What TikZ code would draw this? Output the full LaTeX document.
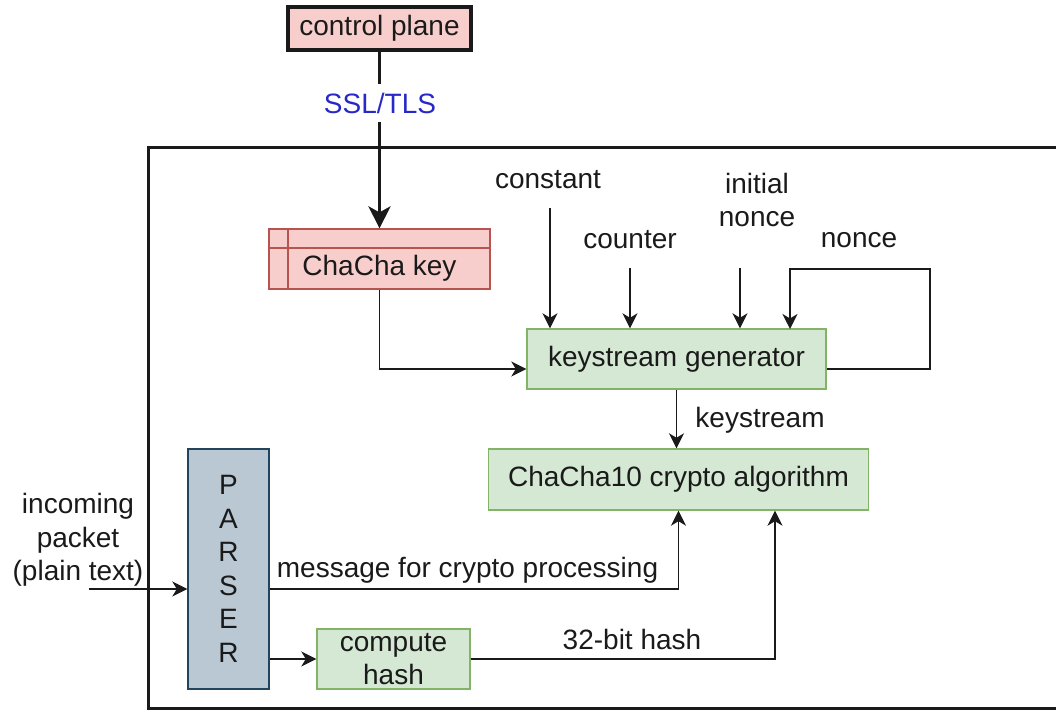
\documentclass[tikz,border=0pt]{standalone}
\usepackage{fontspec}
\setmainfont{Liberation Sans}
\usetikzlibrary{arrows.meta}

\definecolor{pinkfill}{HTML}{F8CECC}
\definecolor{pinkline}{HTML}{B85450}
\definecolor{greenfill}{HTML}{D5E8D4}
\definecolor{greenline}{HTML}{82B366}
\definecolor{bluefill}{HTML}{BAC8D3}
\definecolor{blueline}{HTML}{23445D}
\definecolor{linkblue}{RGB}{40,40,200}
\definecolor{ink}{HTML}{1A1A1A}

\begin{document}
\begin{tikzpicture}[x=1pt,y=-1pt,
  every node/.style={font=\fontsize{28}{33.5}\selectfont, text=ink, inner sep=0pt},
  greenbox/.style={draw=greenline, fill=greenfill, line width=1.4pt, rectangle},
  keybox/.style={draw=pinkline, fill=pinkfill, line width=1.2pt, rectangle},
  planebox/.style={draw=ink, fill=pinkfill, line width=3.5pt, rectangle},
  parserbox/.style={draw=blueline, fill=bluefill, line width=1.4pt, rectangle},
  arr/.style={draw=ink, line width=1.6pt, -{Stealth[length=15pt,width=15pt,inset=4.5pt]}},
  thickarr/.style={draw=ink, line width=3.5pt, -{Stealth[length=22pt,width=22pt,inset=6pt]}},
  frame/.style={draw=ink, line width=3pt}]

  % canvas
  \fill[white] (0,0) rectangle (1056,711);
  \useasboundingbox (0,0) rectangle (1056,711);
  \clip (0,0) rectangle (1056,711);

  % enclosing system frame (runs off to the right)
  \draw[frame] (148,148) rectangle (1090,708);

  % blocks
  \node[planebox, minimum width=183pt, minimum height=43pt] (cp) at (379.5,28.5) {control plane};

  \node[keybox, minimum width=221pt, minimum height=60pt] (key) at (379.5,259) {};
  \draw[pinkline, line width=1.2pt] (269,248) -- (490,248);
  \draw[pinkline, line width=1.2pt] (288,229) -- (288,289);
  \node (keytext) at (379.5,268) {ChaCha key};

  \node[greenbox, minimum width=299pt, minimum height=60pt] (ks) at (676.5,359) {keystream generator};
  \node[greenbox, minimum width=380pt, minimum height=61pt] (cc) at (678.5,479.5) {ChaCha10 crypto algorithm};
  \node[parserbox, minimum width=81pt, minimum height=240pt, align=center] (parser) at (228.5,569) {P\\A\\R\\S\\E\\R};
  \node[greenbox, minimum width=153pt, minimum height=60pt, align=center] (hash) at (393.5,659) {compute\\hash};

  % free-standing labels
  \node (constant) at (548,180) {constant};
  \node (counter) at (630,240) {counter};
  \node[align=center] (inonce) at (757,200) {initial\\nonce};
  \node (nonce) at (859,240) {nonce};
  \node (kslabel) at (760,420) {keystream};
  \node[align=center] (incoming) at (78,540) {incoming\\packet\\(plain text)};
  \node (msg) at (467.5,570) {message for crypto processing};
  \node (hashlabel) at (632,639) {32-bit hash};

  % connector start points
  \coordinate (cstart) at (550,208);
  \coordinate (nstart) at (630,268);
  \coordinate (istart) at (740,268);
  \coordinate (fbtop) at (930,269);
  \coordinate (fbin) at (790,329);
  \coordinate (pktin) at (89,589);

  % key provisioning over SSL/TLS
  \draw[thickarr] (cp.south) -- (key.north);
  \node[text=linkblue, fill=white, inner xsep=2pt, inner ysep=9pt] (ssl) at (380,103) {SSL/TLS};

  % keystream generator inputs
  \draw[arr] (key.south) |- ([yshift=-10pt]ks.west);
  \draw[arr] (cstart) -- (cstart |- ks.north);
  \draw[arr] (nstart) -- (nstart |- ks.north);
  \draw[arr] (istart) -- (istart |- ks.north);
  \draw[arr] ([yshift=-10pt]ks.east) -| (fbtop) -| (fbin);

  % keystream into cipher
  \draw[arr] (ks.south) -- (ks.south |- cc.north);

  % packet path
  \draw[arr] (pktin) -- ([yshift=-20pt]parser.west);
  \draw[arr] ([yshift=-20pt]parser.east) -| (cc.south);
  \draw[arr] (parser.east |- hash.west) -- (hash.west);
  \draw[arr] (hash.east) -| ([xshift=96.5pt]cc.south);
\end{tikzpicture}
\end{document}
